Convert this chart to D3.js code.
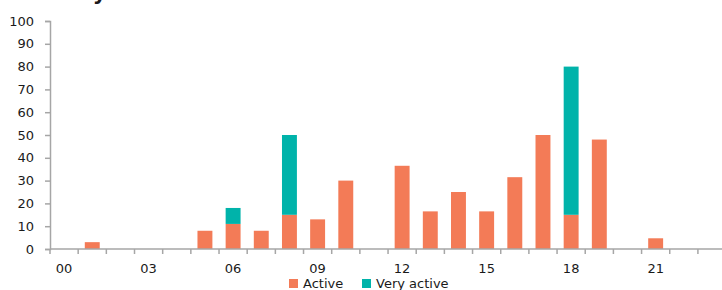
<!DOCTYPE html>
<html>
<head>
<meta charset="utf-8">
<script src="https://cdn.jsdelivr.net/npm/d3@7"></script>
<style>
  body { margin: 0; background: #fff; }
  text { font-family: "DejaVu Sans", Verdana, sans-serif; fill: #1a1a1a; }
</style>
</head>
<body>
<svg id="chart" width="722" height="290"></svg>
<script>
// hours of the day, one bar each
var hours = d3.range(24).map(function(h) { return (h < 10 ? "0" : "") + h; });
var active = [0, 3, 0, 0, 0, 8, 11, 8, 15, 13, 30, 0, 36.5, 16.5, 25, 16.5, 31.5, 50, 15, 48, 0, 4.7, 0, 0];
var veryActive = [0, 0, 0, 0, 0, 0, 7, 0, 35, 0, 0, 0, 0, 0, 0, 0, 0, 0, 65, 0, 0, 0, 0, 0];
var yTicks = [0, 10, 20, 30, 40, 50, 60, 70, 80, 90, 100];
var seriesNames = ["Active", "Very active"];
var colors = ["#f37b57", "#00b3aa"];

var svg = d3.select("#chart");
var marginLeft = 50, axisY = 249, marginTop = 21;

var x = d3.scaleBand().domain(hours).range([marginLeft, marginLeft + 24 * 28.17]).paddingInner(0.47).paddingOuter(0.235);
var y = d3.scaleLinear().domain([0, 100]).range([axisY, marginTop]);

// title sits mostly above the picture, only the descender shows
svg.append("text").attr("x", 16).attr("y", 0)
   .style("font-size", "21px").style("font-weight", "bold")
   .text("Activity");

// stacked data
var table = hours.map(function(h, i) { return { hour: h, Active: active[i], "Very active": veryActive[i] }; });
var stack = d3.stack().keys(seriesNames)(table);

svg.selectAll("g.layer").data(stack).enter().append("g")
   .attr("class", "layer")
   .attr("fill", function(d, i) { return colors[i]; })
   .selectAll("rect").data(function(d) { return d; }).enter().append("rect")
   .attr("x", function(d) { return x(d.data.hour); })
   .attr("width", x.bandwidth())
   .attr("y", function(d) { return y(d[1]); })
   .attr("height", function(d) { return y(d[0]) - y(d[1]); });

// y axis
var yAxis = svg.append("g").attr("transform", "translate(" + marginLeft + ",0)")
   .call(d3.axisLeft(y).tickValues(yTicks).tickSize(5).tickSizeOuter(5).tickPadding(11));
yAxis.selectAll("text").style("font-size", "13px");

// x axis: ticks between bands, labels every 3 hours
var step = x.step();
var xg = svg.append("g");
xg.append("line").attr("x1", marginLeft).attr("x2", 722).attr("y1", axisY).attr("y2", axisY);
xg.selectAll("line.tk").data(d3.range(25)).enter().append("line")
   .attr("class", "tk")
   .attr("x1", function(i) { return marginLeft + i * step; })
   .attr("x2", function(i) { return marginLeft + i * step; })
   .attr("y1", axisY).attr("y2", axisY + 5);
xg.selectAll("text").data(hours.filter(function(h, i) { return i % 3 === 0; })).enter().append("text")
   .attr("x", function(h) { return x(h) + x.bandwidth() / 2; })
   .attr("y", 273)
   .attr("text-anchor", "middle")
   .style("font-size", "13px")
   .text(function(h) { return h; });

svg.selectAll(".domain, .tick line, g line").attr("stroke", "#a6a6a6").attr("stroke-width", 1.5);

// legend
var legendX = [289, 362];
var lg = svg.append("g");
seriesNames.forEach(function(name, i) {
  lg.append("rect").attr("x", legendX[i]).attr("y", 279).attr("width", 9).attr("height", 9).attr("fill", colors[i]);
  lg.append("text").attr("x", legendX[i] + 14).attr("y", 288).style("font-size", "13px").text(name);
});
</script>
</body>
</html>
